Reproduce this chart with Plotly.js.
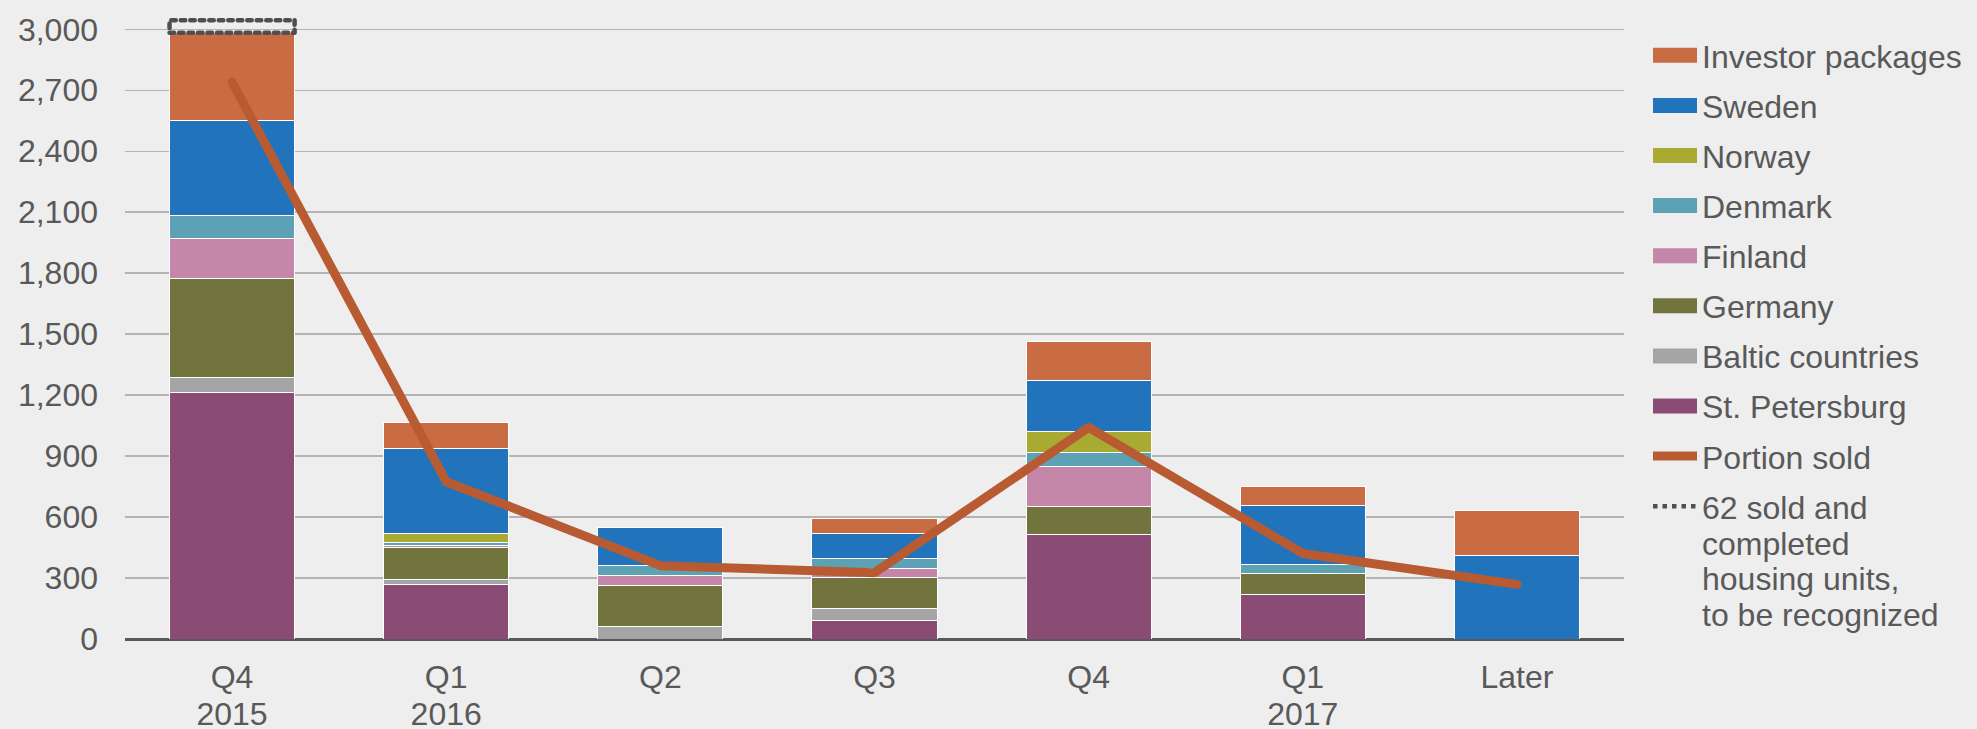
<!DOCTYPE html>
<html>
<head>
<meta charset="utf-8">
<script src="https://cdn.plot.ly/plotly-3.0.1.min.js"></script>
<style>
  html, body { margin: 0; padding: 0; background: #EEEEEE; }
  #chart { width: 1977px; height: 729px; }
  .scatterlayer .js-line { stroke-linecap: round; stroke-linejoin: round; }
</style>
</head>
<body>
<div id="chart"></div>
<script>
// ---- data ----
const categories = ["Q4<br>2015", "Q1<br>2016", "Q2", "Q3", "Q4", "Q1<br>2017", "Later"];
const stPetersburg = [1215, 269, null, 92, 516, 218, null];
const balticCountries = [70, 26, 62, 56, null, null, null];
const germany = [487, 154, 202, 157, 135, 102, null];
const finland = [199, 10, 47, 41, 200, null, null];
const denmark = [114, 15, 50, 51, 69, 47, null];
const norway = [null, 46, null, null, 103, null, null];
const sweden = [466, 415, 187, 123, 251, 292, 413];
const investorPackages = [432, 131, null, 75, 192, 90, 217];
const portionSold = [2740, 774, 361, 326, 1041, 421, 269];
const pendingIndex = 0;          // category holding the dotted box
const pendingUnits = 62;         // sold and completed, to be recognized
const yTicks = [0, 300, 600, 900, 1200, 1500, 1800, 2100, 2400, 2700, 3000];

// ---- styles ----
const FONT = "Liberation Sans, Arial, Helvetica, sans-serif";
const TXT = "#595959";
const BARGAP = 0.416;

const xIdx = categories.map((c, i) => i);

const barSeries = [
  { name: "St. Petersburg", y: stPetersburg, color: "#8A4C75" },
  { name: "Baltic countries", y: balticCountries, color: "#A5A5A5" },
  { name: "Germany", y: germany, color: "#72743D" },
  { name: "Finland", y: finland, color: "#C487A9" },
  { name: "Denmark", y: denmark, color: "#5DA1B5" },
  { name: "Norway", y: norway, color: "#A9AA32" },
  { name: "Sweden", y: sweden, color: "#2174BB" },
  { name: "Investor packages", y: investorPackages, color: "#C96C43" }
];

const traces = [];
barSeries.forEach(s => {
  traces.push({
    type: "bar", x: xIdx, y: s.y, name: s.name,
    marker: { color: s.color, line: { color: "#FFFFFF", width: 1 } },
    showlegend: false, hoverinfo: "name+y"
  });
});

// legend proxies (in reference order)
[...barSeries].reverse().forEach(s => {
  traces.push({
    type: "scatter", mode: "lines", x: [null], y: [null], name: s.name,
    line: { color: s.color, width: 10 }, showlegend: true, legendgroup: s.name, hoverinfo: "skip"
  });
});

traces.push({
  type: "scatter", mode: "lines", x: xIdx, y: portionSold, name: "Portion sold",
  line: { color: "#B85B32", width: 9 }, legendgroup: "ps", hoverinfo: "y"
});

// dotted box on top of the first stack
const stackTotal = barSeries.reduce((acc, s) => acc + (s.y[pendingIndex] || 0), 0);
const hw = (1 - BARGAP) / 2;
traces.push({
  type: "scatter", mode: "lines",
  x: [pendingIndex - hw, pendingIndex + hw, pendingIndex + hw, pendingIndex - hw, pendingIndex - hw],
  y: [stackTotal, stackTotal, stackTotal + pendingUnits, stackTotal + pendingUnits, stackTotal],
  name: "62 sold and<br>completed<br>housing units,<br>to be recognized",
  line: { color: "#4F4F4F", width: 4.5, dash: "4.5px,5px" }, legendgroup: "pend", hoverinfo: "skip"
});

const layout = {
  width: 1977, height: 729,
  paper_bgcolor: "#EEEEEE", plot_bgcolor: "#EEEEEE",
  margin: { l: 125, r: 353, t: 9, b: 90 },
  barmode: "stack", bargap: BARGAP,
  font: { family: FONT, size: 32, color: TXT },
  xaxis: {
    range: [-0.5, categories.length - 0.5],
    tickvals: xIdx, ticktext: categories,
    showgrid: false, zeroline: false, showline: false, ticks: "",
    ticklabelstandoff: 16,
    tickfont: { family: FONT, size: 32, color: TXT }
  },
  yaxis: {
    range: [0, 3100], tickvals: yTicks, tickformat: ",d",
    showgrid: true, gridcolor: "#B3B3B3", gridwidth: 1.5,
    zeroline: true, zerolinecolor: "#595959", zerolinewidth: 3,
    showline: false, ticks: "",
    ticklabelstandoff: 26,
    tickfont: { family: FONT, size: 32, color: TXT }
  },
  legend: {
    xref: "container", yref: "container",
    x: 1648 / 1977, y: 1 - 28 / 729, xanchor: "left", yanchor: "top",
    bgcolor: "rgba(0,0,0,0)", borderwidth: 0, maxheight: 720,
    traceorder: "grouped", tracegroupgap: 5.5, itemwidth: 44, valign: "top",
    font: { family: FONT, size: 32, color: TXT }
  },
  showlegend: true
};

function tightenLines(textEl, factor) {
  textEl.querySelectorAll("tspan.line").forEach(ts => {
    const dy = ts.getAttribute("dy");
    if (dy && dy.endsWith("em")) {
      const v = parseFloat(dy);
      if (!isNaN(v) && v !== 0) ts.setAttribute("dy", (v * factor).toFixed(3) + "em");
    }
  });
}

Plotly.newPlot("chart", traces, layout, { displayModeBar: false, staticPlot: true }).then(gd => {
  const barNames = new Set(barSeries.map(s => s.name));
  gd.querySelectorAll(".legend .traces").forEach(g => {
    const t = g.querySelector("text.legendtext");
    // thicker swatches for the bar-series legend entries
    if (t && barNames.has(t.textContent)) {
      g.querySelectorAll(".legendlines path").forEach(p => { p.style.strokeWidth = "15px"; });
    }
    // tighter line spacing for multi-line legend text
    if (t) tightenLines(t, 1.12 / 1.3);
  });
  // tighter line spacing for two-line x tick labels
  gd.querySelectorAll(".xtick text").forEach(t => tightenLines(t, 1.15 / 1.3));
});
</script>
</body>
</html>
